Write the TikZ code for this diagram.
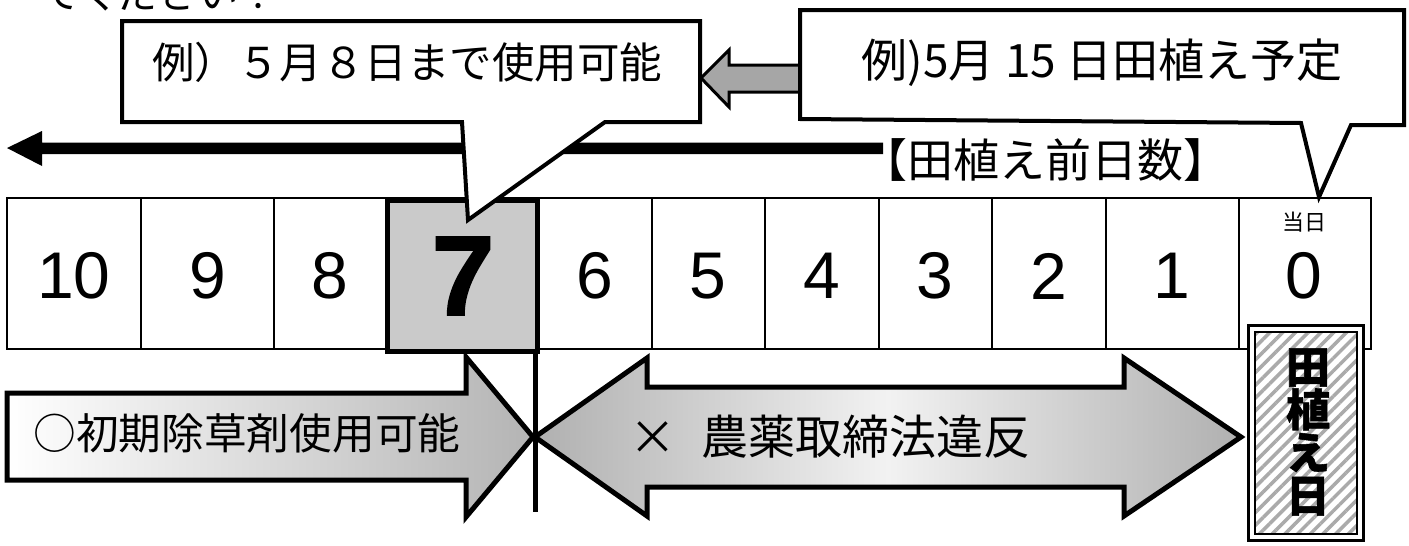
\documentclass[tikz,border=0pt]{standalone}
\usepackage{fontspec}
\usetikzlibrary{patterns.meta}
\newfontfamily\jp{Noto Sans CJK JP}
\newfontfamily\jpheavy[FakeBold=1.2]{Noto Sans CJK JP}
\newfontfamily\lat{Liberation Sans}
\newfontfamily\latheavy[FakeBold=1.6]{Liberation Sans}
\definecolor{sevengray}{RGB}{202,202,202}
\definecolor{smallarrow}{RGB}{166,166,166}
\definecolor{gend}{RGB}{176,176,176}
\definecolor{gmid}{RGB}{242,242,242}
\definecolor{gright}{RGB}{180,180,180}
\definecolor{stripegray}{RGB}{170,170,170}
\begin{document}
\begin{tikzpicture}[x=1pt,y=-1pt,line join=miter,
  jptxt/.style={font=\jp\fontsize{#1}{#1}\selectfont, inner sep=0pt},
  numtxt/.style={font=\lat\fontsize{66}{66}\selectfont, inner sep=0pt},
  cellline/.style={draw, line width=2pt},
  callout/.style={draw, line width=4pt, fill=white},
  blockarrow/.style={draw, line width=5pt}]
\useasboundingbox (0,0) rectangle (1409,546);

% top line of text (cut off at the top edge, as in the reference)
\node[jptxt=40, anchor=base west] (toptext) at (40,9) {てください！};

% table cells
\foreach \a/\b in {7/141,141/274,274/386,386/537,537/652,652/765,765/879,879/992,992/1106,1106/1239,1239/1371}
  \draw[cellline] (\a,198) rectangle (\b,349);

% highlighted day 7
\draw[line width=5pt, fill=sevengray] (387.5,200.5) rectangle (537.5,351.5);

% numbers
\node[numtxt] (n10) at (74,276) {10};
\node[numtxt] (n9) at (208,276) {9};
\node[numtxt] (n8) at (330,276) {8};
\node[font=\latheavy\bfseries\fontsize{113}{113}\selectfont, inner sep=0pt] (n7) at (463,276) {7};
\node[numtxt] (n6) at (595,276) {6};
\node[numtxt] (n5) at (708,276) {5};
\node[numtxt] (n4) at (822,276) {4};
\node[numtxt] (n3) at (935,276) {3};
\node[numtxt] (n2) at (1049,276) {2};
\node[numtxt] (n1) at (1172,276) {1};
\node[numtxt] (n0) at (1304,276) {0};
\node[jptxt=22] (today) at (1304,222) {当日};

% timeline arrow
\fill (7,148) -- (42,131) -- (42,142.5) -- (883,142.5) -- (883,154) -- (42,154) -- (42,166) -- cycle;

% callout A
\path[callout] (122,21) -- (700,21) -- (700,122) -- (605,122) -- (468,220) -- (462,122) -- (122,122) -- cycle;
\node[jptxt=42.5] (exA) at (407,62) {例）５月８日まで使用可能};

% small grey arrow
\draw[line width=3pt, fill=smallarrow] (701,78) -- (729,50) -- (729,65) -- (823,65) -- (823,92) -- (729,92) -- (729,107) -- cycle;

% callout B
\path[callout] (800,10) -- (1404,10) -- (1404,125) -- (1351,125) -- (1319,197) -- (1301,123) -- (800,119) -- cycle;
\node[jptxt=46] (exB) at (1102,63) {例)5月 15 日田植え予定};

% label
\node[jptxt=46] (days) at (1045,160) {【田植え前日数】};

% bottom arrow 1
\path[blockarrow, left color=white, right color=gright] (7,393) -- (466,393) -- (466,357) -- (533,437) -- (466,517) -- (466,480) -- (7,480) -- cycle;
\node[jptxt=42.7] (ok) at (247,433) {○初期除草剤使用可能};

% bottom arrow 2 (double)
\path[blockarrow, left color=gend, right color=gend, middle color=gmid] (535,437) -- (647,358) -- (647,387) -- (1124,387) -- (1124,358) -- (1241,437) -- (1124,516) -- (1124,487) -- (647,487) -- (647,516) -- cycle;
\node[jptxt=47] (ng) at (833,437) {\makebox[36pt]{×}\hspace{31pt}農薬取締法違反};

% vertical limit line
\draw[line width=5pt] (535,351) -- (535,512);

% planting day box
\draw[line width=3pt, fill=white] (1248,325) rectangle (1363,540);
\draw[line width=2pt, pattern={Lines[angle=45,distance=9pt,line width=3.5pt]}, pattern color=stripegray] (1254.5,331.5) rectangle (1356.5,533.5);
\node[font=\jpheavy\bfseries\fontsize{44}{43}\selectfont, align=center, inner sep=0pt] (plant) at (1308,432) {田\\植\\え\\日};
\end{tikzpicture}
\end{document}
